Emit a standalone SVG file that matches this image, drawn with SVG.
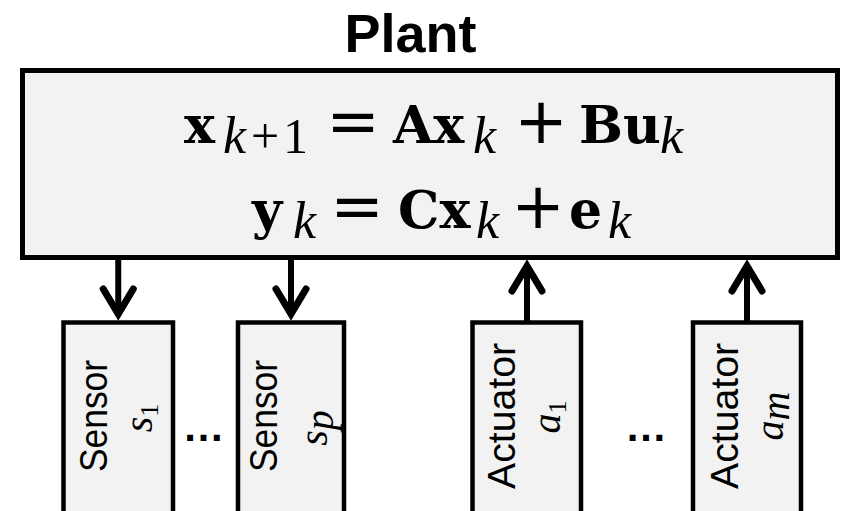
<svg xmlns="http://www.w3.org/2000/svg" width="841" height="511" viewBox="0 0 841 511">
<style>
.box{fill:#f2f2f2;stroke:#000;stroke-width:5}
.sbox{fill:#f2f2f2;stroke:#000;stroke-width:4.5}
.title{font-family:"Liberation Sans",Arial,sans-serif;font-weight:bold;font-size:54px;fill:#000}
.mb{font-family:"DejaVu Serif",serif;font-weight:bold;font-size:52px}
.mi{font-family:"Liberation Serif",serif;font-style:italic;font-size:52px}
.mr{font-family:"Liberation Serif",serif;font-size:50px}
.op{font-family:"DejaVu Sans",sans-serif;font-size:64px}
.lab{font-family:"Liberation Sans",Arial,sans-serif;font-size:38px;fill:#000}
.li{font-family:"Liberation Serif",serif;font-style:italic;font-size:40px}
.ls{font-family:"Liberation Serif",serif;font-size:26px}
.dots{font-family:"Liberation Sans",Arial,sans-serif;font-weight:bold;font-size:42px}
.conn{stroke:#000;stroke-width:6;fill:none}
</style>
<defs>
<marker id="chev" markerUnits="userSpaceOnUse" markerWidth="60" markerHeight="60" viewBox="-30 -30 60 60" refX="0" refY="0" orient="auto" overflow="visible">
<path d="M-25,-15 L0,0 L-25,15" fill="none" stroke="#000" stroke-width="7" stroke-linecap="round" stroke-linejoin="miter"/>
</marker>
</defs>
<text class="title" x="410.5" y="52" text-anchor="middle">Plant</text>
<g id="plant">
<rect class="box" x="22.5" y="70.5" width="815" height="187"/>
<text y="143"><tspan class="mb" x="184">x</tspan><tspan class="mi" x="223" y="153">k</tspan><tspan class="mr" x="251" y="153">+</tspan><tspan class="mr" x="283" y="153">1</tspan><tspan class="op" x="353" y="143" text-anchor="middle">=</tspan><tspan class="mb" x="393" y="143">Ax</tspan><tspan class="mi" x="473" y="153">k</tspan><tspan class="op" x="541" y="143" text-anchor="middle">+</tspan><tspan class="mb" x="579" y="143">Bu</tspan><tspan class="mi" x="660" y="153">k</tspan></text>
<text y="228"><tspan class="mb" x="252">y</tspan><tspan class="mi" x="293" y="238">k</tspan><tspan class="op" x="357" y="228" text-anchor="middle">=</tspan><tspan class="mb" x="398" y="228">Cx</tspan><tspan class="mi" x="476" y="238">k</tspan><tspan class="op" x="538" y="228" text-anchor="middle">+</tspan><tspan class="mb" x="569" y="228">e</tspan><tspan class="mi" x="608" y="238">k</tspan></text>
</g>
<g id="sensor1">
<rect class="sbox" x="63.5" y="322.5" width="109.5" height="200"/>
<g transform="translate(118.25,416) rotate(-90)">
<text class="lab" x="0" y="-11" text-anchor="middle" textLength="112" lengthAdjust="spacingAndGlyphs">Sensor</text>
<text x="-2" y="34" text-anchor="middle"><tspan class="li">s</tspan><tspan class="ls" dy="6">1</tspan></text>
</g>
</g>
<g id="sensorp">
<rect class="sbox" x="238" y="322.5" width="106" height="200"/>
<g transform="translate(291,416) rotate(-90)">
<text class="lab" x="0" y="-14" text-anchor="middle" textLength="112" lengthAdjust="spacingAndGlyphs">Sensor</text>
<text x="-12" y="36" text-anchor="middle"><tspan class="li">s</tspan><tspan class="li" font-size="28" dy="6">p</tspan></text>
</g>
</g>
<g id="actuator1">
<rect class="sbox" x="472.5" y="322.5" width="108.5" height="200"/>
<g transform="translate(527,416) rotate(-90)">
<text class="lab" x="0" y="-12" text-anchor="middle" textLength="146" lengthAdjust="spacingAndGlyphs">Actuator</text>
<text x="-1" y="33" text-anchor="middle"><tspan class="li">a</tspan><tspan class="ls" dy="6">1</tspan></text>
</g>
</g>
<g id="actuatorm">
<rect class="sbox" x="693" y="322.5" width="108" height="200"/>
<g transform="translate(747,416) rotate(-90)">
<text class="lab" x="0" y="-9" text-anchor="middle" textLength="146" lengthAdjust="spacingAndGlyphs">Actuator</text>
<text x="0" y="36" text-anchor="middle"><tspan class="li">a</tspan><tspan class="li" font-size="28" dy="6">m</tspan></text>
</g>
</g>
<text class="dots" x="203.5" y="441" text-anchor="middle">…</text>
<text class="dots" x="646" y="441" text-anchor="middle">…</text>
<g id="connectors">
<line class="conn" x1="118.25" y1="258" x2="118.25" y2="314" marker-end="url(#chev)"/>
<line class="conn" x1="291" y1="258" x2="291" y2="314" marker-end="url(#chev)"/>
<line class="conn" x1="527" y1="322" x2="527" y2="266" marker-end="url(#chev)"/>
<line class="conn" x1="747" y1="322" x2="747" y2="266" marker-end="url(#chev)"/>
</g>
</svg>
